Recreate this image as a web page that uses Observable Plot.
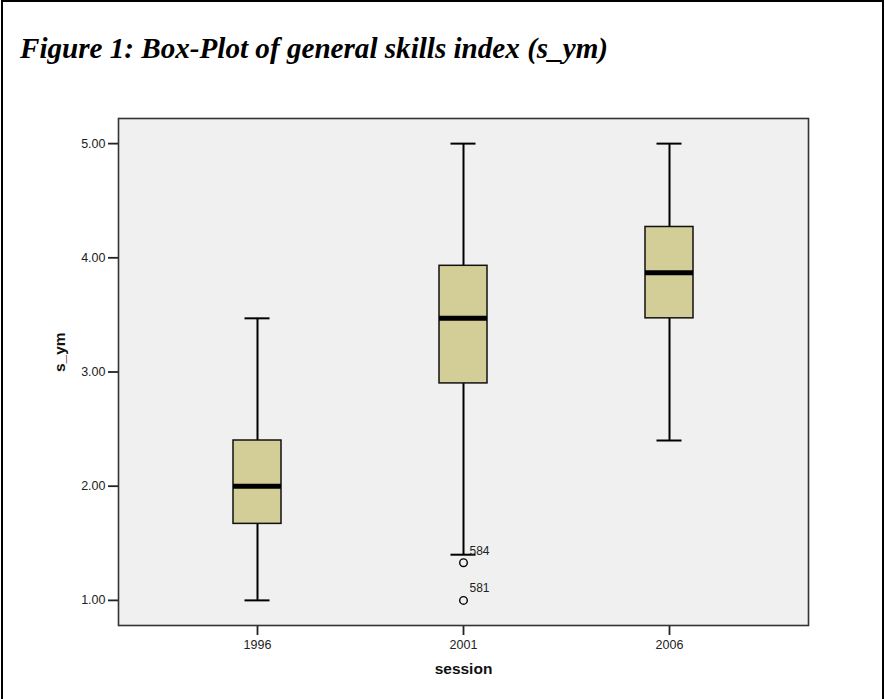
<!DOCTYPE html>
<html>
<head>
<meta charset="utf-8">
<script src="https://cdn.jsdelivr.net/npm/d3@7"></script>
<script src="https://cdn.jsdelivr.net/npm/@observablehq/plot@0.6"></script>
<style>
  html, body { margin: 0; padding: 0; background: #fff; }
  #page { position: relative; width: 885px; height: 699px; overflow: hidden; }
  #border { position: absolute; left: 1px; top: 0px; width: 879px; height: 730px; border: 2px solid #000; box-sizing: content-box; pointer-events: none; }
  #title { height: 90px; position: relative; }
  #title span { position: absolute; left: 20px; top: 33px; line-height: 30px; white-space: nowrap;
    font-family: "Liberation Serif", "Times New Roman", serif; font-weight: bold; font-style: italic; font-size: 30px; color: #000;
    transform-origin: 0 0; }
  #chart svg { display: block; }
</style>
</head>
<body>
<div id="page">
  <div id="title"><span id="t">Figure 1: Box-Plot of general skills index (s_ym)</span></div>
  <div id="chart"></div>
  <div id="border"></div>
</div>
<script>
const sessions = ["1996", "2001", "2006"];
const lowerWhisker = [1.00, 1.40, 2.40];
const q1 = [1.67, 2.90, 3.47];
const median = [2.00, 3.47, 3.87];
const q3 = [2.40, 3.93, 4.27];
const upperWhisker = [3.47, 5.00, 5.00];

const outlierSession = ["2001", "2001"];
const outlierValue = [1.33, 1.00];
const outlierId = ["584", "581"];

const yTicks = [1, 2, 3, 4, 5];

const boxes = sessions.map((s, i) => ({
  session: s, lo: lowerWhisker[i], q1: q1[i], med: median[i], q3: q3[i], hi: upperWhisker[i]
}));
const outliers = outlierSession.map((s, i) => ({session: s, value: outlierValue[i], id: outlierId[i]}));

const chart = Plot.plot({
  width: 885,
  height: 609,
  marginTop: 28,
  marginBottom: 74,
  marginLeft: 118,
  marginRight: 77,
  style: {fontFamily: "Liberation Sans, Arial, sans-serif", fontSize: "12px", color: "#222", background: "transparent"},
  x: {domain: sessions, paddingInner: 0.768, paddingOuter: 0.551},
  y: {domain: [0.78, 5.22]},
  marks: [
    Plot.frame({fill: "#f0f0f0"}),
    Plot.axisY({ticks: yTicks, tickFormat: d => d.toFixed(2), tickSize: 10, tickPadding: 3, label: null, strokeWidth: 1.8, stroke: "#222", fontSize: 12.5}),
    Plot.axisX({tickSize: 10, tickPadding: 5, label: null, strokeWidth: 1.8, stroke: "#222", fontSize: 12.5}),
    // whiskers
    Plot.ruleX(boxes, {x: "session", y1: "lo", y2: "q1", stroke: "#000", strokeWidth: 2}),
    Plot.ruleX(boxes, {x: "session", y1: "q3", y2: "hi", stroke: "#000", strokeWidth: 2}),
    Plot.tickY(boxes, {x: "session", y: "lo", stroke: "#000", strokeWidth: 2, inset: 11.5}),
    Plot.tickY(boxes, {x: "session", y: "hi", stroke: "#000", strokeWidth: 2, inset: 11.5}),
    // boxes
    Plot.barY(boxes, {x: "session", y1: "q1", y2: "q3", fill: "#d3ce98", stroke: "#111", strokeWidth: 1.5}),
    Plot.tickY(boxes, {x: "session", y: "med", stroke: "#000", strokeWidth: 5}),
    // outliers
    Plot.dot(outliers, {x: "session", y: "value", r: 3.8, stroke: "#000", strokeWidth: 1.4, fill: "none"}),
    Plot.text(outliers, {x: "session", y: "value", text: "id", dx: 6, dy: -12, textAnchor: "start", fontSize: 12, fill: "#222"}),
    // axis titles
    Plot.text(["session"], {frameAnchor: "bottom", dy: 48, text: d => d, fontWeight: "bold", fontSize: 15.5, fill: "#111"}),
    Plot.text(["s_ym"], {frameAnchor: "left", dx: -58, rotate: -90, text: d => d, fontWeight: "bold", fontSize: 15.5, fill: "#111"}),
    Plot.frame({stroke: "#333", strokeWidth: 1.6})
  ]
});
document.getElementById("chart").append(chart);

const t = document.getElementById("t");
const w = t.getBoundingClientRect().width;
if (w > 0) t.style.transform = `scaleX(${588 / w})`;
</script>
</body>
</html>
